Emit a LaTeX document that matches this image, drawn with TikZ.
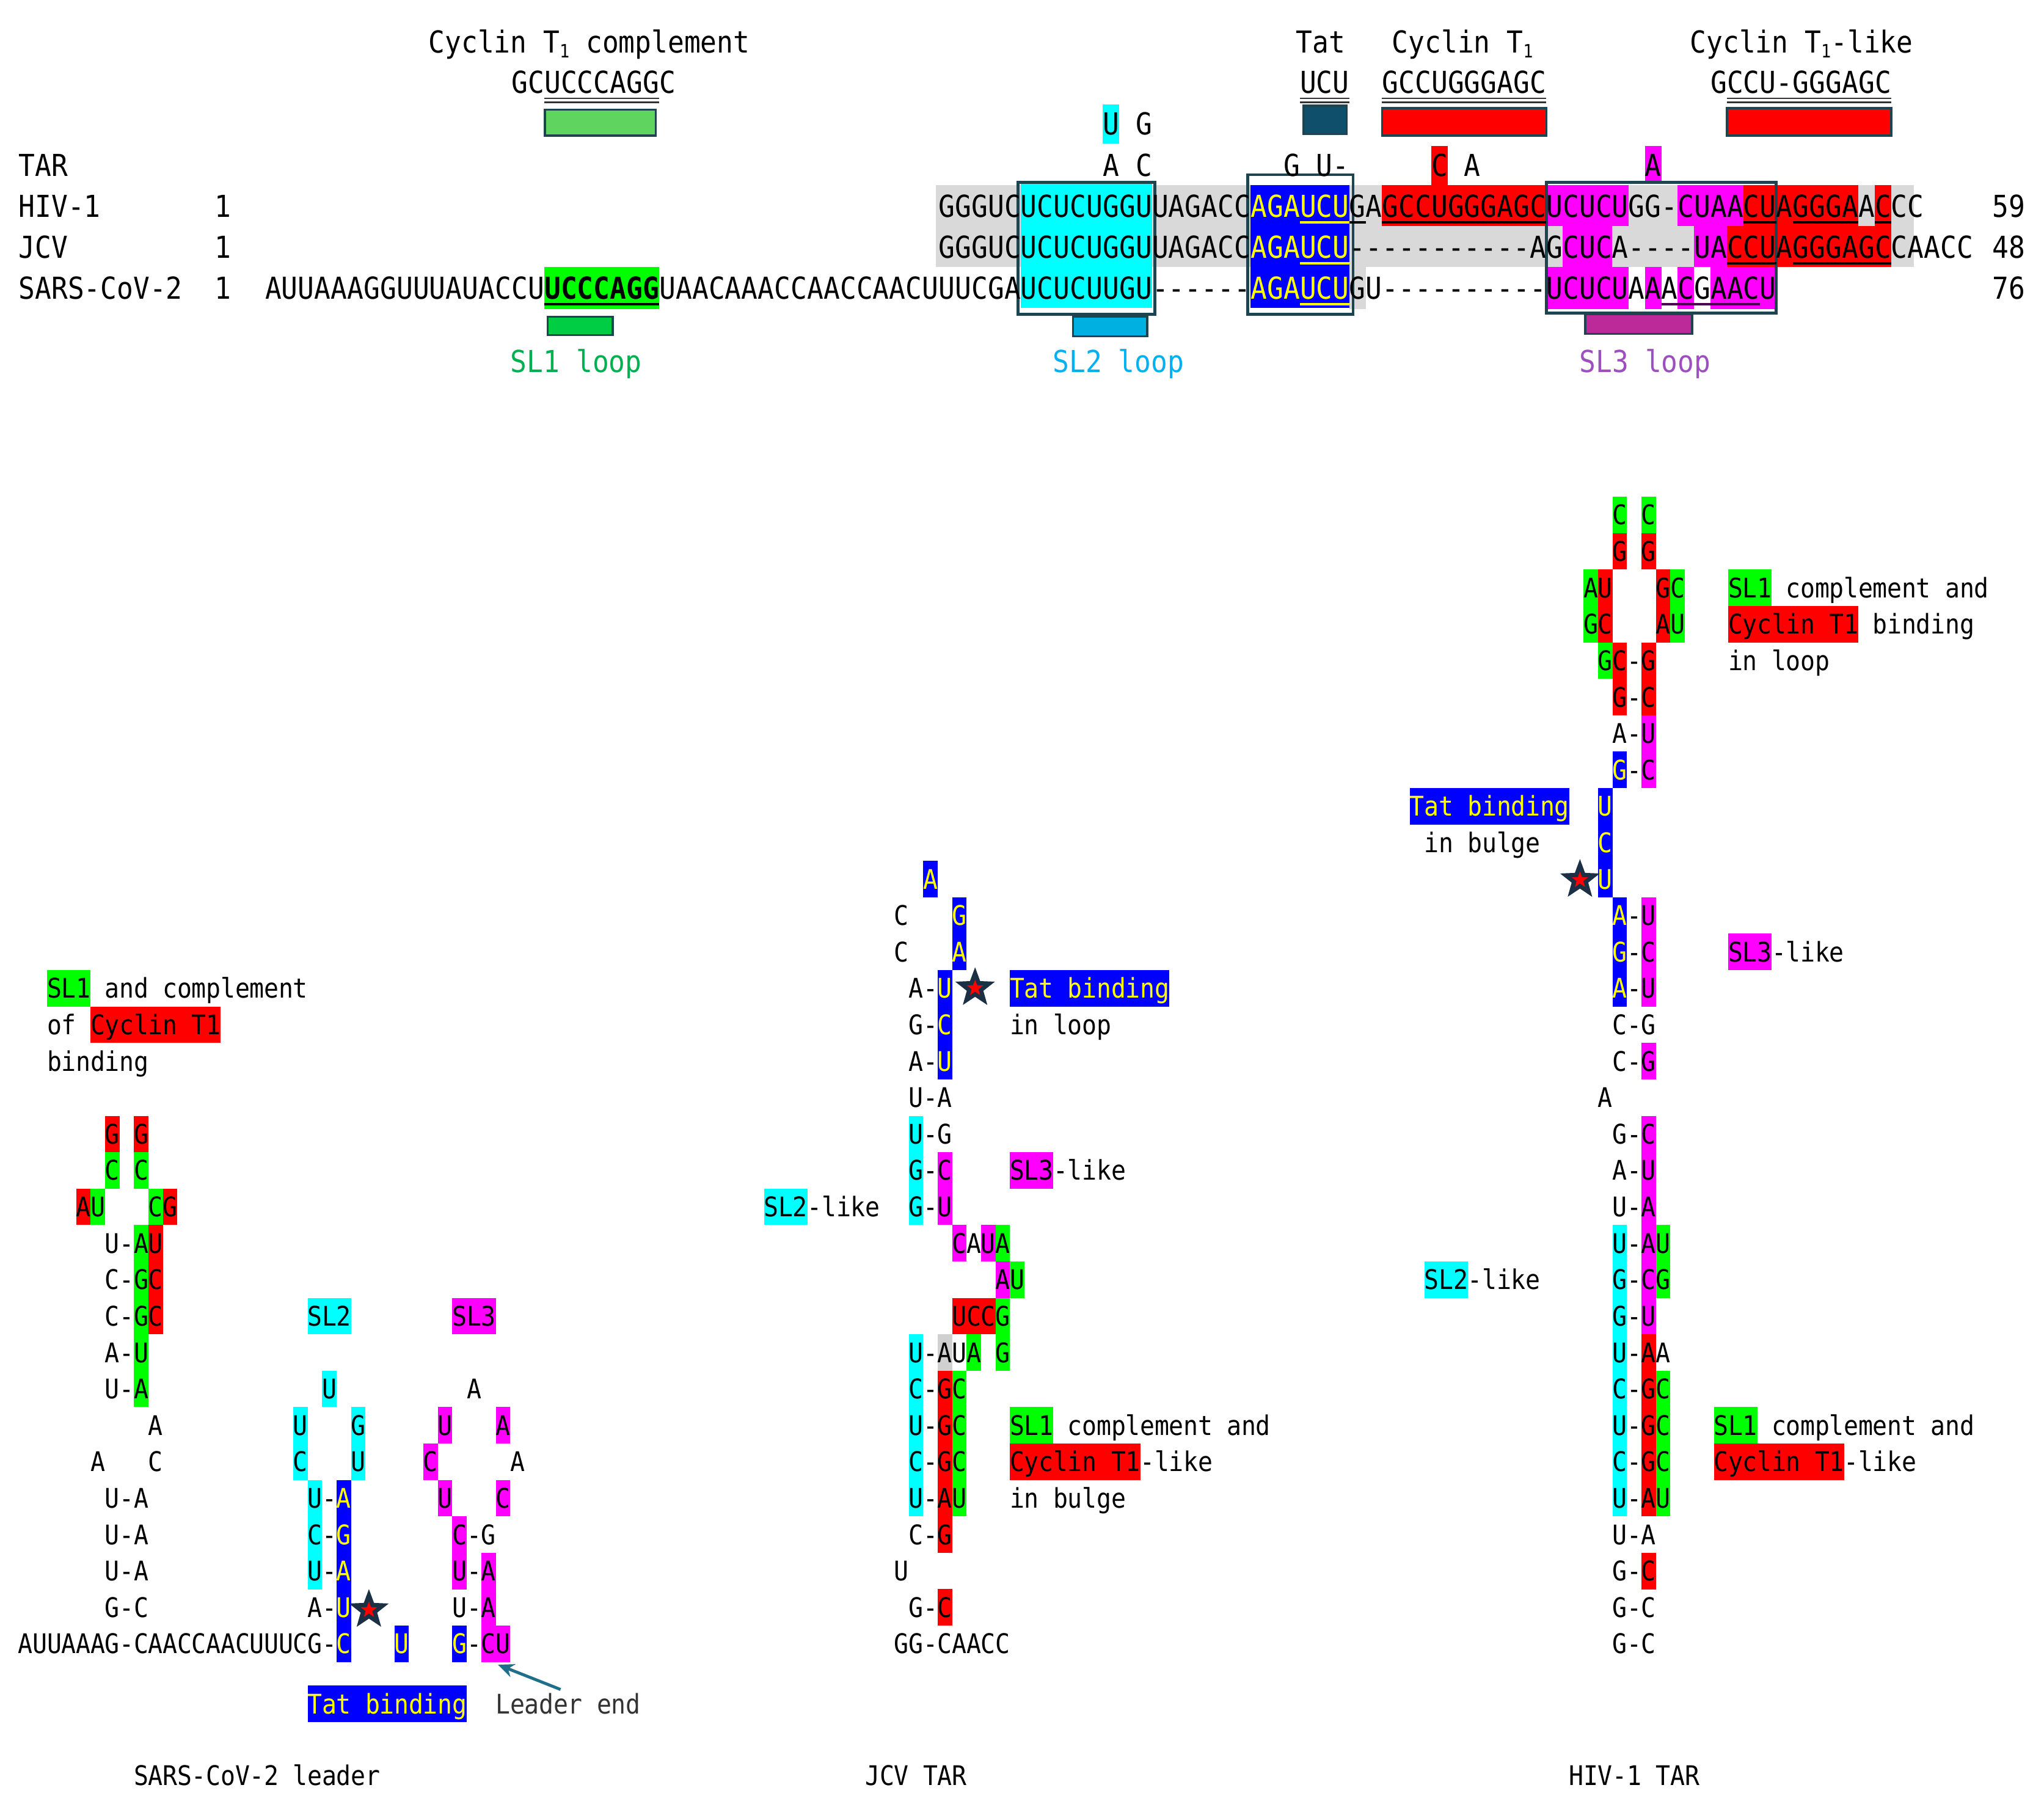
\documentclass[tikz,border=0pt]{standalone}
\usepackage{fontspec}
\usetikzlibrary{shapes.geometric,arrows.meta}
\newfontfamily\topfnt[FakeStretch=0.9]{DejaVu Sans Mono}
\newfontfamily\stfnt[FakeStretch=0.9]{DejaVu Sans Mono}
\definecolor{cgreen}{HTML}{00FF00}
\definecolor{cred}{HTML}{FF0000}
\definecolor{cmag}{HTML}{FF00FF}
\definecolor{ccyan}{HTML}{00FFFF}
\definecolor{cblue}{HTML}{0000FF}
\definecolor{cyel}{HTML}{FFFF00}
\definecolor{cgray}{HTML}{D9D9D9}
\definecolor{cgraytwo}{HTML}{D0D0D0}
\definecolor{boxline}{HTML}{1E4450}
\definecolor{barteal}{HTML}{0F4F6B}
\definecolor{barlg}{HTML}{5FD55F}
\definecolor{barslone}{HTML}{00CC44}
\definecolor{barsltwo}{HTML}{00B0E0}
\definecolor{barslthree}{HTML}{BC2A9A}
\definecolor{tslone}{HTML}{00B050}
\definecolor{tsltwo}{HTML}{00B0F0}
\definecolor{tslthree}{HTML}{9E4FBF}
\definecolor{starnavy}{HTML}{1B2F45}
\definecolor{arrowteal}{HTML}{1F6F8B}
\definecolor{txtgray}{HTML}{333333}
\newcommand\subone{\raisebox{-0.3ex}{\fontsize{8}{8}\selectfont 1}}
\newcount\cc
\newcount\gc
% top alignment characters: startcol, ycenter, style, string
\def\tseq#1#2#3#4{\cc=#1\relax\def\py{#2}\tikzset{cur/.style={#3}}\tloop#4\relax}
\def\tloop#1{\ifx#1\relax\else\ifx#1.\else\global\advance\gc by 1\relax\node[tch,cur,name=t\the\gc] at ({713.7+12.6*\the\cc},{\py+8.5}) {#1};\fi\advance\cc by 1\relax\expandafter\tloop\fi}
% structure characters: x0, startcol, row k, style, string
\def\sseq#1#2#3#4#5{\cc=#2\relax\def\px{#1}\def\pk{#3}\tikzset{cur/.style={#4}}\sloop#5\relax}
\def\sloop#1{\ifx#1\relax\else\ifx#1.\else\global\advance\gc by 1\relax\node[sch,cur,name=s\the\gc] at ({\px+11.1*(\the\cc+0.5)},{1268.5-27.935*(\pk)}) {#1};\fi\advance\cc by 1\relax\expandafter\sloop\fi}
% structure highlights
\newcommand\shl[5]{\fill[#5] ({#1+11.1*(#2)},{1261-27.935*(#4)-13.97}) rectangle ({#1+11.1*(#3+1)},{1261-27.935*(#4)+13.97});}
\newcommand\svr[5]{\fill[#5] ({#1+11.1*(#2)},{1261-27.935*(#4)-13.97}) rectangle ({#1+11.1*(#2+1)},{1261-27.935*(#3)+13.97});}
% top highlights: c1, c2, ytop, ybot, colour
\newcommand\thl[5]{\fill[#5] ({707.4+12.6*(#1)},#3) rectangle ({720+12.6*(#2)},#4);}
\newcommand\tul[4]{\draw[#4,line width=1.1pt] ({707.4+12.6*(#1)},#3) -- ({720+12.6*(#2)},#3);}
\newcommand\tdul[3]{\draw[black!80,line width=0.6pt] ({707.4+12.6*(#1)},#3) -- ({720+12.6*(#2)},#3);\draw[black!80,line width=0.6pt] ({707.4+12.6*(#1)},{#3+3}) -- ({720+12.6*(#2)},{#3+3});}
\begin{document}
\begin{tikzpicture}[x=0.02cm,y=-0.02cm,
  tch/.style={font=\topfnt\fontsize{13.2}{15}\selectfont,inner sep=0pt,anchor=base,text=black},
  sch/.style={font=\stfnt\fontsize{11.8}{13}\selectfont,inner sep=0pt,anchor=base,text=black},
  yel/.style={text=cyel},
  bar/.style={draw=boxline,line width=0.9pt},
  starout/.style={star,star points=5,star point ratio=2.4,minimum size=0.64cm,inner sep=0pt,fill=starnavy},
  starin/.style={star,star points=5,star point ratio=2.4,minimum size=0.26cm,inner sep=0pt,fill=cred}]
\useasboundingbox (0,0) rectangle (1568,1386);
\fill[white] (0,0) rectangle (1568,1386);

% ===================== TOP ALIGNMENT =====================
\fill[cgray] (718,142) rectangle (1468,205);
\thl{26}{26}{205}{237}{cgray}
\thl{6}{13}{141}{236}{ccyan}
\thl{20}{25}{142}{236}{cblue}
% HIV row
\thl{28}{37}{142}{173.5}{cred}
\thl{31}{31}{112}{142}{cred}
\thl{38}{42}{142}{173.5}{cmag}
\thl{46}{49}{142}{173.5}{cmag}
\thl{44}{44}{112}{141}{cmag}
\thl{50}{56}{142}{173.5}{cred}
\thl{58}{58}{142}{173.5}{cred}
% JCV row
\thl{39}{41}{173.5}{205}{cmag}
\thl{47}{48}{173.5}{205}{cmag}
\thl{49}{58}{173.5}{205}{cred}
% SARS row
\thl{-23}{-17}{205}{237}{cgreen}
\thl{38}{42}{205}{237}{cmag}
\thl{44}{44}{205}{237}{cmag}
\thl{46}{46}{205}{237}{cmag}
\thl{48}{51}{205}{237}{cmag}
\thl{11}{11}{80}{110}{ccyan}
% outlines
\draw[boxline,line width=1.3pt] (781,140) rectangle (886,241);
\draw[boxline,line width=1.3pt] (957,134) rectangle (1038,241);
\draw[boxline,line width=1.3pt] (1186.2,140) rectangle (1362.6,240);

% headers
\node[tch] (h1) at (452,40.5) {Cyclin T\subone{} complement};
\node[tch] (h2) at (1013,40.5) {Tat};
\node[tch] (h3) at (1122,40.5) {Cyclin T\subone};
\node[tch] (h4) at (1382,40.5) {Cyclin T\subone-like};
\tseq{-25}{63}{}{GCUCCCAGGC}
\tseq{23}{63}{}{UCU}
\tseq{28}{63}{}{GCCUGGGAGC}
\tseq{48}{63}{}{GCCU-GGGAGC}
\tdul{-23}{-17}{75.5}
\tdul{23}{25}{75.5}
\tdul{28}{37}{75.5}
\tdul{49}{58}{75.5}
\draw[bar,fill=barlg] (418,84) rectangle (503,104);
\draw[bar,fill=barteal] (1000,81) rectangle (1033,103);
\draw[bar,fill=cred] (1060.2,83) rectangle (1186.2,104);
\draw[bar,fill=cred] (1324.8,83) rectangle (1450.8,104);

% loop rows above
\tseq{11}{95}{}{U.G}
\tseq{11}{126.5}{}{A.C}
\tseq{22}{126.5}{}{G.U-}
\tseq{31}{126.5}{}{C.A}
\tseq{44}{126.5}{}{A}

% row labels
\node[tch,anchor=base west] (lTAR) at (14,135) {TAR};
\node[tch,anchor=base west] (lHIV) at (14,166.5) {HIV-1};
\node[tch,anchor=base west] (lJCV) at (14,198) {JCV};
\node[tch,anchor=base west] (lSARS) at (14,229.5) {SARS-CoV-2};
\node[tch] (nH) at (171,166.5) {1};
\node[tch] (nJ) at (171,198) {1};
\node[tch] (nS) at (171,229.5) {1};
\node[tch,anchor=base west] (eH) at (1528,166.5) {59};
\node[tch,anchor=base west] (eJ) at (1528,198) {48};
\node[tch,anchor=base west] (eS) at (1528,229.5) {76};

% sequences
\tseq{1}{158}{}{GGGUCUCUCUGGUUAGACC......GAGCCUGGGAGCUCUCUGG-CUAACUAGGGAACCC}
\tseq{20}{158}{yel}{AGAUCU}
\tseq{1}{189.5}{}{GGGUCUCUCUGGUUAGACC......-----------AGCUCA----UACCUAGGGAGCCAACC}
\tseq{20}{189.5}{yel}{AGAUCU}
\tseq{-40}{221}{}{AUUAAAGGUUUAUACCU}
\tseq{-23}{221}{font=\topfnt\fontsize{13.2}{15}\selectfont\bfseries}{UCCCAGG}
\tseq{-16}{221}{}{UAACAAACCAACCAACUUUCGAUCUCUUGU------......GU----------UCUCUAAACGAACU}
\tseq{20}{221}{yel}{AGAUCU}

% underlines
\tul{28}{37}{170.5}{black}
\tul{26}{26}{170.5}{black}
\tul{50}{51}{170.5}{black}
\tul{53}{56}{170.5}{black}
\tul{58}{58}{170.5}{black}
\tul{23}{25}{170.5}{cyel}
\tul{23}{25}{202}{cyel}
\tul{49}{51}{202}{black}
\tul{53}{58}{202}{black}
\tul{23}{25}{233.5}{cyel}
\tul{-23}{-17}{233.5}{black}
\tul{45}{50}{233.5}{black!70!cmag}

% loop bars
\draw[bar,fill=barslone] (420,243) rectangle (470,257);
\draw[bar,fill=barsltwo] (823,243) rectangle (880,258);
\draw[bar,fill=barslthree] (1216,241) rectangle (1298,256);
\node[tch,text=tslone] (sl1) at (442,285.5) {SL1 loop};
\node[tch,text=tsltwo] (sl2) at (858,285.5) {SL2 loop};
\node[tch,text=tslthree] (sl3) at (1262,285.5) {SL3 loop};

% ===================== SARS-CoV-2 STRUCTURE =====================
\svr{14}{6}{14}{14}{cred}\svr{14}{8}{14}{14}{cred}
\svr{14}{6}{13}{13}{cgreen}\svr{14}{8}{13}{13}{cgreen}
\svr{14}{4}{12}{12}{cred}\svr{14}{5}{12}{12}{cgreen}\svr{14}{9}{12}{12}{cgreen}\svr{14}{10}{12}{12}{cred}
\svr{14}{8}{7}{11}{cgreen}\svr{14}{9}{9}{11}{cred}
\shl{14}{20}{22}{9}{ccyan}\shl{14}{30}{32}{9}{cmag}
\svr{14}{21}{7}{7}{ccyan}
\svr{14}{19}{5}{6}{ccyan}\svr{14}{23}{5}{6}{ccyan}
\svr{14}{20}{2}{4}{ccyan}
\svr{14}{22}{0}{4}{cblue}
\svr{14}{26}{0}{0}{cblue}
\svr{14}{29}{6}{6}{cmag}\svr{14}{33}{6}{6}{cmag}
\svr{14}{28}{5}{5}{cmag}
\svr{14}{29}{4}{4}{cmag}\svr{14}{33}{4}{4}{cmag}
\svr{14}{30}{2}{3}{cmag}
\svr{14}{32}{0}{2}{cmag}
\svr{14}{33}{0}{0}{cmag}
\svr{14}{30}{0}{0}{cblue}
\shl{14}{2}{4}{18}{cgreen}\shl{14}{5}{13}{17}{cred}
\shl{14}{20}{30}{-1.65}{cblue}

\sseq{14}{6}{14}{}{G.G}
\sseq{14}{6}{13}{}{C.C}
\sseq{14}{4}{12}{}{AU...CG}
\sseq{14}{6}{11}{}{U-AU}
\sseq{14}{6}{10}{}{C-GC}
\sseq{14}{6}{9}{}{C-GC}
\sseq{14}{20}{9}{}{SL2}
\sseq{14}{30}{9}{}{SL3}
\sseq{14}{6}{8}{}{A-U}
\sseq{14}{6}{7}{}{U-A}
\sseq{14}{21}{7}{}{U}
\sseq{14}{31}{7}{}{A}
\sseq{14}{9}{6}{}{A}
\sseq{14}{19}{6}{}{U...G}
\sseq{14}{29}{6}{}{U...A}
\sseq{14}{5}{5}{}{A...C}
\sseq{14}{19}{5}{}{C...U}
\sseq{14}{28}{5}{}{C.....A}
\sseq{14}{6}{4}{}{U-A}
\sseq{14}{20}{4}{}{U-}
\sseq{14}{22}{4}{yel}{A}
\sseq{14}{29}{4}{}{U...C}
\sseq{14}{6}{3}{}{U-A}
\sseq{14}{20}{3}{}{C-}
\sseq{14}{22}{3}{yel}{G}
\sseq{14}{30}{3}{}{C-G}
\sseq{14}{6}{2}{}{U-A}
\sseq{14}{20}{2}{}{U-}
\sseq{14}{22}{2}{yel}{A}
\sseq{14}{30}{2}{}{U-A}
\sseq{14}{6}{1}{}{G-C}
\sseq{14}{20}{1}{}{A-}
\sseq{14}{22}{1}{yel}{U}
\sseq{14}{30}{1}{}{U-A}
\sseq{14}{0}{0}{}{AUUAAAG-CAACCAACUUUCG-}
\sseq{14}{22}{0}{yel}{C}
\sseq{14}{26}{0}{yel}{U}
\sseq{14}{30}{0}{yel}{G}
\sseq{14}{31}{0}{}{-CU}
\sseq{14}{2}{18}{}{SL1.and.complement}
\sseq{14}{2}{17}{}{of.Cyclin.T1}
\sseq{14}{2}{16}{}{binding}
\sseq{14}{20}{-1.65}{yel}{Tat.binding}
\sseq{14}{33}{-1.65}{text=txtgray}{Leader.end}
\sseq{14}{8}{-3.62}{}{SARS-CoV-2.leader}
\node[starout] (starS) at (283,1235) {};
\node[starin] (starSi) at (283,1235) {};
\coordinate (leA) at (430,1296);
\coordinate (leB) at (382,1277);
\draw[arrowteal,line width=1.3pt,-{Stealth[length=7pt,width=6pt]}] (leA) -- (leB);

% ===================== JCV STRUCTURE =====================
\svr{686}{2}{21}{21}{cblue}
\svr{686}{4}{19}{20}{cblue}
\svr{686}{3}{16}{18}{cblue}
\shl{686}{8}{18}{18}{cblue}
\svr{686}{1}{12}{14}{ccyan}
\svr{686}{3}{12}{13}{cmag}
\shl{686}{8}{10}{13}{cmag}
\shl{686}{-9}{-7}{12}{ccyan}
\svr{686}{4}{11}{11}{cmag}\svr{686}{6}{11}{11}{cmag}\svr{686}{7}{11}{11}{cgreen}
\svr{686}{7}{10}{10}{cmag}\svr{686}{8}{10}{10}{cgreen}
\shl{686}{4}{6}{9}{cred}\svr{686}{7}{8}{9}{cgreen}
\svr{686}{1}{4}{8}{ccyan}
\svr{686}{3}{8}{8}{cgraytwo}
\svr{686}{5}{8}{8}{cgreen}
\svr{686}{3}{3}{7}{cred}
\svr{686}{4}{4}{7}{cgreen}
\svr{686}{3}{1}{1}{cred}
\shl{686}{8}{10}{6}{cgreen}\shl{686}{8}{16}{5}{cred}

\sseq{686}{2}{21}{yel}{A}
\sseq{686}{0}{20}{}{C}\sseq{686}{4}{20}{yel}{G}
\sseq{686}{0}{19}{}{C}\sseq{686}{4}{19}{yel}{A}
\sseq{686}{1}{18}{}{A-}\sseq{686}{3}{18}{yel}{U}
\sseq{686}{1}{17}{}{G-}\sseq{686}{3}{17}{yel}{C}
\sseq{686}{1}{16}{}{A-}\sseq{686}{3}{16}{yel}{U}
\sseq{686}{1}{15}{}{U-A}
\sseq{686}{1}{14}{}{U-G}
\sseq{686}{1}{13}{}{G-C}
\sseq{686}{1}{12}{}{G-U}
\sseq{686}{4}{11}{}{CAUA}
\sseq{686}{7}{10}{}{AU}
\sseq{686}{4}{9}{}{UCCG}
\sseq{686}{1}{8}{}{U-AUA.G}
\sseq{686}{1}{7}{}{C-GC}
\sseq{686}{1}{6}{}{U-GC}
\sseq{686}{1}{5}{}{C-GC}
\sseq{686}{1}{4}{}{U-AU}
\sseq{686}{1}{3}{}{C-G}
\sseq{686}{0}{2}{}{U}
\sseq{686}{1}{1}{}{G-C}
\sseq{686}{0}{0}{}{GG-CAACC}
\sseq{686}{8}{18}{yel}{Tat.binding}
\sseq{686}{8}{17}{}{in.loop}
\sseq{686}{8}{13}{}{SL3-like}
\sseq{686}{-9}{12}{}{SL2-like}
\sseq{686}{8}{6}{}{SL1.complement.and}
\sseq{686}{8}{5}{}{Cyclin.T1-like}
\sseq{686}{8}{4}{}{in.bulge}
\sseq{686}{-2}{-3.62}{}{JCV.TAR}
\node[starout] (starJ) at (748,758) {};
\node[starin] (starJi) at (748,758) {};

% ===================== HIV-1 STRUCTURE =====================
\svr{1237}{0}{31}{31}{cgreen}\svr{1237}{2}{31}{31}{cgreen}
\svr{1237}{0}{30}{30}{cred}\svr{1237}{2}{30}{30}{cred}
\svr{1237}{-2}{28}{29}{cgreen}\svr{1237}{-1}{28}{29}{cred}
\svr{1237}{3}{28}{29}{cred}\svr{1237}{4}{28}{29}{cgreen}
\svr{1237}{-1}{27}{27}{cgreen}\svr{1237}{0}{26}{27}{cred}\svr{1237}{2}{26}{27}{cred}
\svr{1237}{2}{24}{25}{cmag}
\svr{1237}{0}{24}{24}{cblue}
\svr{1237}{-1}{21}{23}{cblue}
\svr{1237}{0}{18}{20}{cblue}
\svr{1237}{2}{18}{20}{cmag}
\svr{1237}{2}{16}{16}{cmag}
\svr{1237}{2}{9}{14}{cmag}
\svr{1237}{0}{4}{11}{ccyan}
\svr{1237}{3}{10}{11}{cgreen}
\svr{1237}{2}{4}{8}{cred}
\svr{1237}{3}{4}{7}{cgreen}
\svr{1237}{2}{2}{2}{cred}
\shl{1237}{8}{10}{29}{cgreen}\shl{1237}{8}{16}{28}{cred}
\shl{1237}{-14}{-4}{23}{cblue}
\shl{1237}{8}{10}{19}{cmag}
\shl{1237}{-13}{-11}{10}{ccyan}
\shl{1237}{7}{9}{6}{cgreen}\shl{1237}{7}{15}{5}{cred}

\sseq{1237}{0}{31}{}{C.C}
\sseq{1237}{0}{30}{}{G.G}
\sseq{1237}{-2}{29}{}{AU...GC}
\sseq{1237}{-2}{28}{}{GC...AU}
\sseq{1237}{-1}{27}{}{GC-G}
\sseq{1237}{0}{26}{}{G-C}
\sseq{1237}{0}{25}{}{A-U}
\sseq{1237}{0}{24}{yel}{G}\sseq{1237}{1}{24}{}{-C}
\sseq{1237}{-1}{23}{yel}{U}
\sseq{1237}{-1}{22}{yel}{C}
\sseq{1237}{-1}{21}{yel}{U}
\sseq{1237}{0}{20}{yel}{A}\sseq{1237}{1}{20}{}{-U}
\sseq{1237}{0}{19}{yel}{G}\sseq{1237}{1}{19}{}{-C}
\sseq{1237}{0}{18}{yel}{A}\sseq{1237}{1}{18}{}{-U}
\sseq{1237}{0}{17}{}{C-G}
\sseq{1237}{0}{16}{}{C-G}
\sseq{1237}{-1}{15}{}{A}
\sseq{1237}{0}{14}{}{G-C}
\sseq{1237}{0}{13}{}{A-U}
\sseq{1237}{0}{12}{}{U-A}
\sseq{1237}{0}{11}{}{U-AU}
\sseq{1237}{0}{10}{}{G-CG}
\sseq{1237}{0}{9}{}{G-U}
\sseq{1237}{0}{8}{}{U-AA}
\sseq{1237}{0}{7}{}{C-GC}
\sseq{1237}{0}{6}{}{U-GC}
\sseq{1237}{0}{5}{}{C-GC}
\sseq{1237}{0}{4}{}{U-AU}
\sseq{1237}{0}{3}{}{U-A}
\sseq{1237}{0}{2}{}{G-C}
\sseq{1237}{0}{1}{}{G-C}
\sseq{1237}{0}{0}{}{G-C}
\sseq{1237}{8}{29}{}{SL1.complement.and}
\sseq{1237}{8}{28}{}{Cyclin.T1.binding}
\sseq{1237}{8}{27}{}{in.loop}
\sseq{1237}{-14}{23}{yel}{Tat.binding}
\sseq{1237}{-13}{22}{}{in.bulge}
\sseq{1237}{8}{19}{}{SL3-like}
\sseq{1237}{-13}{10}{}{SL2-like}
\sseq{1237}{7}{6}{}{SL1.complement.and}
\sseq{1237}{7}{5}{}{Cyclin.T1-like}
\sseq{1237}{-3}{-3.62}{}{HIV-1.TAR}
\node[starout] (starH) at (1212,675) {};
\node[starin] (starHi) at (1212,675) {};
\end{tikzpicture}
\end{document}
